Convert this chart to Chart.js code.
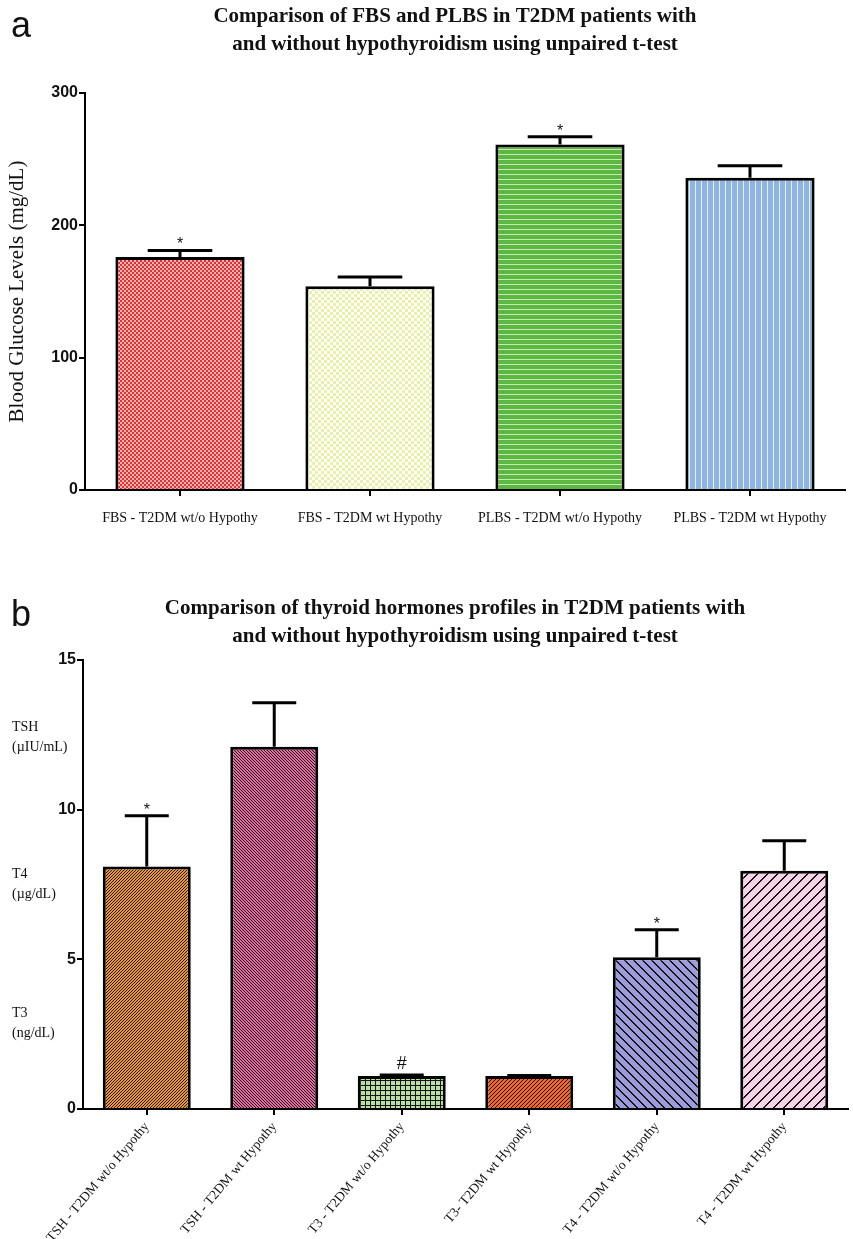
<!DOCTYPE html>
<html><head><meta charset="utf-8">
<script src="https://cdn.jsdelivr.net/npm/chart.js@4.4.1/dist/chart.umd.min.js"></script>
<style>
body{margin:0;background:#fff;width:853px;height:1239px;position:relative;overflow:hidden}
.box{position:absolute;left:0;width:853px}
.letter{position:absolute;left:11px;font:36px "Liberation Sans",Arial,sans-serif;color:#111;z-index:2;line-height:1}
</style></head><body>
<div class="box" style="top:0;height:530px"><canvas id="c1"></canvas></div>
<div class="box" style="top:570px;height:669px"><canvas id="c2"></canvas></div>
<div class="letter" style="top:7px">a</div>
<div class="letter" style="top:596px">b</div>
<script>
// ---- Data: panel a ----
const topTitle = ['Comparison of FBS and PLBS in T2DM patients with', 'and without hypothyroidism using unpaired t-test'];
const topCategories = ['FBS - T2DM wt/o Hypothy', 'FBS - T2DM wt Hypothy', 'PLBS - T2DM wt/o Hypothy', 'PLBS - T2DM wt Hypothy'];
const topValues = [176, 154, 261, 236];
const topErrors = [5, 7, 6, 9];
const topMarks = ['*', '', '*', ''];
const topTicks = [0, 100, 200, 300];
const topAxisTitle = 'Blood Glucose Levels (mg/dL)';

// ---- Data: panel b ----
const botTitle = ['Comparison of thyroid hormones profiles in T2DM patients with', 'and without hypothyroidism using unpaired t-test'];
const botCategories = ['TSH - T2DM wt/o Hypothy', 'TSH - T2DM wt Hypothy', 'T3 - T2DM wt/o Hypothy', 'T3- T2DM wt Hypothy', 'T4 - T2DM wt/o Hypothy', 'T4 - T2DM wt Hypothy'];
const botValues = [8.1, 12.1, 1.1, 1.1, 5.07, 7.96];
const botErrors = [1.7, 1.47, 0.04, 0.02, 0.92, 1.0];
const botMarks = ['*', '', '#', '', '*', ''];
const botTicks = [0, 5, 10, 15];
const botUnitLabels = [['TSH', '(\u00b5IU/mL)'], ['T4', '(\u00b5g/dL)'], ['T3', '(ng/dL)']];

// ---- patterns ----
function tile(w, h, fn) {
  const c = document.createElement('canvas'); c.width = w; c.height = h;
  const x = c.getContext('2d');
  const img = x.createImageData(w, h);
  for (let j = 0; j < h; j++) for (let i = 0; i < w; i++) {
    const col = fn(i, j); const k = (j * w + i) * 4;
    img.data[k] = col[0]; img.data[k+1] = col[1]; img.data[k+2] = col[2]; img.data[k+3] = 255;
  }
  x.putImageData(img, 0, 0);
  return document.createElement('canvas').getContext('2d').createPattern(c, 'repeat');
}
const hex = h => [parseInt(h.slice(1,3),16), parseInt(h.slice(3,5),16), parseInt(h.slice(5,7),16)];
const BLACK = [20,20,20];
const topFills = [
  tile(4, 4, (i, j) => ((Math.floor(i/2) + Math.floor(j/2)) % 2 ? hex('#f8b8b8') : hex('#e62e2e'))),
  tile(6, 6, (i, j) => ((Math.floor(i/3) + Math.floor(j/3)) % 2 ? hex('#ffffff') : hex('#eaf1a6'))),
  tile(1, 5, (i, j) => (j === 4 ? hex('#c6e9b6') : hex('#5cb840'))),
  tile(6, 1, (i, j) => (i === 5 ? hex('#e6effa') : hex('#8eb4e2')))
];
const diag = (n, base, up, thick) => tile(n, n, (i, j) => {
  const m = up ? (i + j) % n : ((i - j) % n + n) % n;
  return m < thick ? BLACK : hex(base);
});
const botFills = [
  diag(3, '#f39a1e', true, 1),
  diag(3, '#ec6aa4', false, 1),
  tile(5, 5, (i, j) => (i === 0 || j === 0 ? BLACK : hex('#b9dea4'))),
  diag(4, '#f26522', true, 1),
  diag(9, '#9c9cdc', false, 2),
  diag(10, '#f6d3e6', true, 2)
];

// ---- plugin: error bars, marks, titles, extra labels ----
const decor = {
  id: 'decor',
  afterDatasetsDraw(chart, args, o) {
    const ctx = chart.ctx, ys = chart.scales.y;
    const meta = chart.getDatasetMeta(0);
    ctx.save();
    meta.data.forEach((bar, i) => {
      const v = o.values[i], e = o.errors[i];
      const yTop = ys.getPixelForValue(v + e), yBar = ys.getPixelForValue(v);
      const half = bar.width / 4;
      ctx.strokeStyle = '#000'; ctx.lineWidth = 3; ctx.lineCap = 'butt';
      ctx.beginPath();
      ctx.moveTo(bar.x, yBar); ctx.lineTo(bar.x, yTop);
      ctx.moveTo(bar.x - half, yTop); ctx.lineTo(bar.x + half, yTop);
      ctx.stroke();
      if (o.marks[i]) {
        ctx.fillStyle = '#111';
        ctx.textAlign = 'center'; ctx.textBaseline = 'alphabetic';
        ctx.font = o.marks[i] === '#' ? '18px "Liberation Sans", Arial' : '16px "Liberation Sans", Arial';
        ctx.fillText(o.marks[i], bar.x, yTop - (o.marks[i] === '#' ? 6 : 1));
      }
    });
    ctx.restore();
  },
  afterDraw(chart, args, o) {
    const ctx = chart.ctx;
    ctx.save();
    ctx.fillStyle = '#111';
    ctx.textAlign = 'center'; ctx.textBaseline = 'middle';
    ctx.font = 'bold 21px "Liberation Serif", "Times New Roman", serif';
    o.title.forEach((t, k) => ctx.fillText(t, o.titleX, o.titleY + k * 28));
    if (o.units) {
      ctx.textAlign = 'left';
      ctx.font = '14px "Liberation Serif", "Times New Roman", serif';
      o.units.forEach((u, k) => {
        ctx.fillText(u[0], 12, o.unitY[k]);
        ctx.fillText(u[1], 12, o.unitY[k] + 20);
      });
    }
    ctx.restore();
  }
};

function makeChart(id, cats, vals, errs, marks, fills, ticks, cfg) {
  return new Chart(document.getElementById(id), {
    type: 'bar',
    data: { labels: cats, datasets: [{ data: vals, backgroundColor: fills, borderColor: '#000', borderWidth: 3, borderSkipped: 'bottom', categoryPercentage: 1, barPercentage: cfg.barPct }] },
    plugins: [decor],
    options: {
      responsive: true, maintainAspectRatio: false, animation: false, devicePixelRatio: 1,
      layout: { padding: { top: cfg.padTop, right: cfg.padRight, left: 0, bottom: 0 } },
      plugins: {
        legend: { display: false }, tooltip: { enabled: false },
        decor: { values: vals, errors: errs, marks: marks, title: cfg.title, titleX: cfg.titleX, titleY: cfg.titleY, units: cfg.units, unitY: cfg.unitY }
      },
      scales: {
        x: {
          grid: { offset: false, drawOnChartArea: false, drawTicks: true, tickLength: 6, color: '#000', lineWidth: 2 },
          border: { color: '#000', width: 2 },
          ticks: { color: '#111', font: { family: '"Liberation Serif", "Times New Roman", serif', size: cfg.xFont }, padding: cfg.xPad, minRotation: cfg.rot, maxRotation: cfg.rot, autoSkip: false },
          afterFit: s => { s.height = cfg.xHeight; }
        },
        y: {
          min: ticks[0], max: ticks[ticks.length - 1],
          afterBuildTicks: s => { s.ticks = ticks.map(v => ({ value: v })); },
          grid: { drawOnChartArea: false, tickLength: 6, color: '#000', lineWidth: 2 },
          border: { color: '#000', width: 2 },
          ticks: { color: '#111', font: { family: '"Liberation Sans", Arial, sans-serif', size: 16, weight: 'bold' }, padding: 1 },
          title: cfg.yTitle ? { display: true, text: cfg.yTitle, color: '#111', font: { family: '"Liberation Serif", "Times New Roman", serif', size: 21 }, padding: { top: 5, bottom: 0 } } : { display: false },
          afterFit: s => { s.width = cfg.yWidth; }
        }
      }
    }
  });
}

makeChart('c1', topCategories, topValues, topErrors, topMarks, topFills, topTicks, {
  barPct: 0.68, padTop: 93, padRight: 8, xPad: 14, rot: 0, xHeight: 40, yWidth: 85, xFont: 14,
  yTitle: topAxisTitle, title: topTitle, titleX: 455, titleY: 17
});
makeChart('c2', botCategories, botValues, botErrors, botMarks, botFills, botTicks, {
  barPct: 0.69, padTop: 90, padRight: 5, xPad: 4, rot: 50, xHeight: 130, yWidth: 83, xFont: 13.5,
  yTitle: null, title: botTitle, titleX: 455, titleY: 39, units: botUnitLabels, unitY: [157, 304, 443]
});
</script>
</body></html>
